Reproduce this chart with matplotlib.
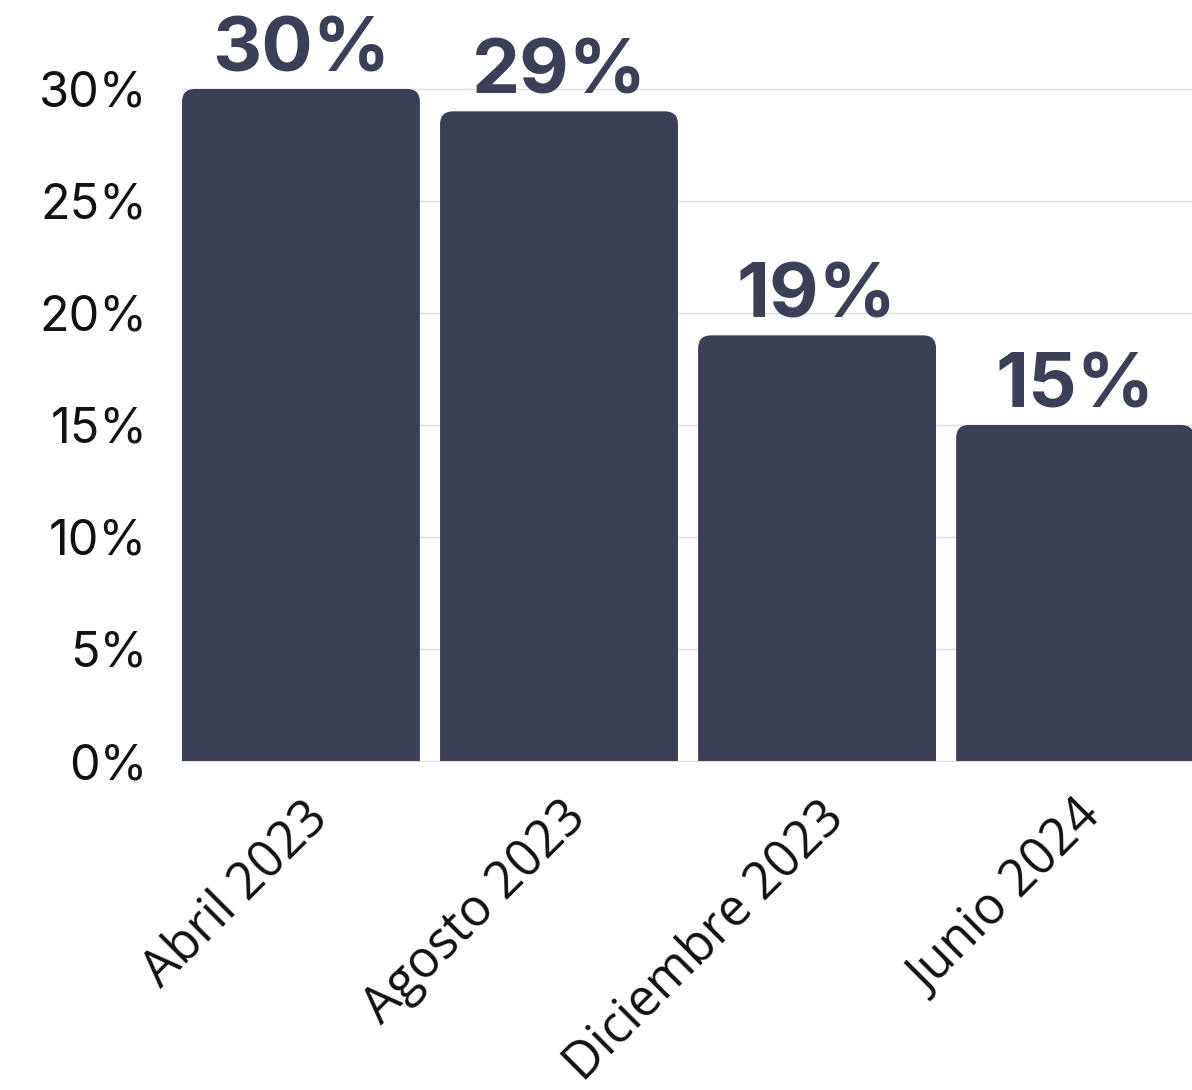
import matplotlib
matplotlib.use("Agg")
import matplotlib.pyplot as plt
from matplotlib.patches import FancyBboxPatch
from matplotlib.ticker import FuncFormatter
import matplotlib.transforms as mtransforms

# -----------------------
# Data
# -----------------------
periods = ["Abril 2023", "Agosto 2023", "Diciembre 2023", "Junio 2024"]
values = [30, 29, 19, 15]
bar_labels = ["30%", "29%", "19%", "15%"]

BAR_COLOR = "#3b3f57"
GRID_COLOR = "#dcdcdc"

fig = plt.figure(figsize=(11.92, 10.90), dpi=100)
ax = fig.add_axes([182 / 1192, 1 - 761 / 1090, 1010 / 1192, 761 / 1090])

x = list(range(len(periods)))
bars = ax.bar(x, values, width=0.922, color=BAR_COLOR, zorder=2)

ax.set_xlim(-0.461, 3.453)
ax.set_ylim(0, 33.97)

# swap the plain rectangles for ones with rounded tops
x_px = 258.0   # pixels per x unit
y_px = 22.4    # pixels per y unit
radius = 13
for rect in bars:
    rect.set_visible(False)
    box = FancyBboxPatch(
        (rect.get_x(), -2), rect.get_width(), rect.get_height() + 2,
        boxstyle=f"round,pad=0,rounding_size={radius / x_px}",
        mutation_aspect=x_px / y_px,
        facecolor=BAR_COLOR, edgecolor="none", zorder=2,
    )
    ax.add_patch(box)

for xi, v, lab in zip(x, values, bar_labels):
    ax.annotate(lab, (xi, v), xytext=(0, 1), textcoords="offset points",
                ha="center", va="bottom", fontsize=55, fontweight="bold",
                color=BAR_COLOR, family="Inter", clip_on=False)

ax.set_yticks([0, 5, 10, 15, 20, 25, 30])
ax.yaxis.set_major_formatter(FuncFormatter(lambda v, p: f"{v:.0f}%"))
ax.tick_params(axis="y", length=0, pad=25, labelsize=35, labelcolor="#111111")
for t in ax.get_yticklabels():
    t.set_family("Inter")
    t.set_fontweight("normal")
    t.set_verticalalignment("center")
ytick_shift = mtransforms.ScaledTranslation(0, -5 / 100, fig.dpi_scale_trans)
for t in ax.get_yticklabels():
    t.set_transform(t.get_transform() + ytick_shift)

ax.set_xticks(x)
ax.set_xticklabels(periods, rotation=45, ha="right", rotation_mode="anchor",
                   fontsize=36.5, family="Open Sans", color="#111111")
ax.tick_params(axis="x", length=0, pad=0)
offset = mtransforms.ScaledTranslation(1 / 100, -31 / 100, fig.dpi_scale_trans)
for t in ax.get_xticklabels():
    t.set_transform(t.get_transform() + offset)

ax.grid(axis="y", color=GRID_COLOR, linewidth=1, zorder=0)
ax.set_axisbelow(True)
for s in ["top", "right", "left"]:
    ax.spines[s].set_visible(False)
ax.spines["bottom"].set_color(GRID_COLOR)
ax.spines["bottom"].set_zorder(1)

fig.savefig("out.png", dpi=100)
